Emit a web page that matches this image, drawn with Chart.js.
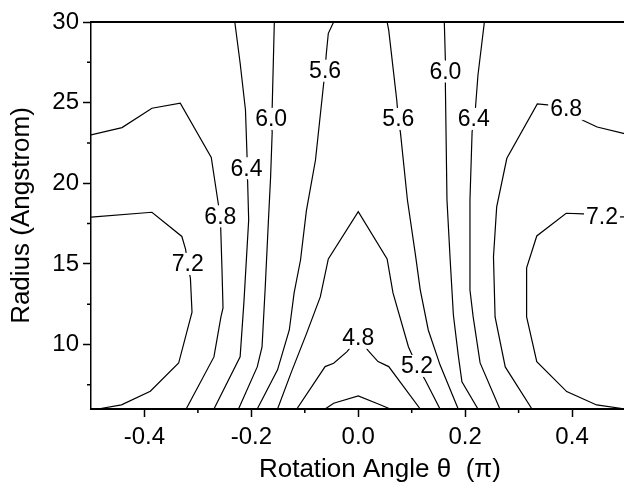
<!DOCTYPE html>
<html>
<head>
<meta charset="utf-8">
<script src="https://cdn.jsdelivr.net/npm/chart.js@4.4.0/dist/chart.umd.min.js"></script>
<style>
  html, body { margin: 0; padding: 0; background: #fff; overflow: hidden; }
  #wrap { width: 624px; height: 487px; overflow: hidden; }
  #box { width: 630px; height: 487px; }
</style>
</head>
<body>
<div id="wrap"><div id="box"><canvas id="chart"></canvas></div></div>
<script>
const xTicks = [-0.4, -0.2, 0.0, 0.2, 0.4];
const xMinor = [-0.3, -0.1, 0.1, 0.3];
const yTicks = [10, 15, 20, 25, 30];
const yMinor = [7.5, 12.5, 17.5, 22.5, 27.5];

// contour lines as [rotation angle, radius]
const c72Left = [[-0.5, 17.9], [-0.386, 18.2], [-0.33, 16.7], [-0.323, 15.9], [-0.319, 15.0], [-0.314, 14.1], [-0.311, 12.0], [-0.336, 8.85], [-0.389, 7.1], [-0.443, 6.26], [-0.482, 6.03], [-0.5, 6.0]];
const c68Left = [[-0.5, 23.0], [-0.442, 23.45], [-0.386, 24.65], [-0.333, 24.96], [-0.275, 21.6], [-0.262, 18.76], [-0.258, 17.95], [-0.255, 14.75], [-0.253, 12.27], [-0.257, 11.7], [-0.27, 9.23], [-0.322, 6.0]];
const c64Left = [[-0.231, 30], [-0.221, 27.46], [-0.211, 24.54], [-0.208, 21.63], [-0.209, 20.93], [-0.207, 20.14], [-0.205, 17.72], [-0.214, 12.58], [-0.221, 9.24], [-0.27, 6.0]];
const c60Left = [[-0.157, 30], [-0.161, 24.73], [-0.163, 23.99], [-0.161, 23.18], [-0.164, 20.39], [-0.168, 17.72], [-0.174, 13.57], [-0.18, 9.85], [-0.189, 8.61], [-0.224, 6.0]];
const c56Left = [[-0.046, 30], [-0.056, 29.3], [-0.06, 27.95], [-0.062, 26.98], [-0.065, 26.09], [-0.08, 21.44], [-0.097, 18.3], [-0.108, 15.24], [-0.12, 13.2], [-0.129, 10.9], [-0.151, 8.43], [-0.189, 6.0]];
const c52 = [[-0.151, 6.0], [-0.125, 8.3], [-0.097, 10.66], [-0.071, 12.95], [-0.056, 15.31], [0.0, 18.24], [0.054, 15.31], [0.065, 13.2], [0.094, 9.85], [0.11, 8.67], [0.125, 7.81], [0.153, 6.0]];
const c48 = [[-0.115, 6.0], [-0.062, 8.63], [-0.046, 8.84], [-0.021, 9.56], [0.0, 10.41], [0.019, 9.6], [0.037, 8.94], [0.057, 8.63], [0.116, 6.0]];
const c44 = [[-0.062, 6.0], [-0.046, 6.36], [0.0, 6.81], [0.041, 6.26], [0.06, 6.0]];
const c56Right = [[0.054, 30], [0.057, 29.5], [0.072, 25.16], [0.075, 23.99], [0.079, 23.12], [0.092, 18.96], [0.107, 15.56], [0.116, 13.39], [0.131, 10.9], [0.153, 8.74], [0.187, 6.0]];
const c60Right = [[0.161, 30], [0.163, 27.64], [0.163, 26.93], [0.163, 26.09], [0.166, 18.96], [0.172, 15.24], [0.178, 11.83], [0.187, 9.36], [0.194, 7.68], [0.224, 6.0]];
const c64Right = [[0.236, 30], [0.224, 26.71], [0.219, 24.54], [0.216, 23.99], [0.213, 23.18], [0.209, 18.96], [0.209, 13.38], [0.215, 11.71], [0.228, 8.86], [0.265, 6.0]];
const c68Right = [[0.325, 6.0], [0.275, 8.61], [0.256, 11.71], [0.253, 15.43], [0.259, 18.53], [0.278, 21.55], [0.335, 24.92], [0.359, 24.85], [0.389, 24.61], [0.421, 23.89], [0.447, 23.49], [0.5, 23.06]];
const c72Right = [[0.5, 6.0], [0.446, 6.25], [0.39, 7.08], [0.334, 8.94], [0.315, 11.71], [0.315, 14.75], [0.334, 16.73], [0.389, 18.14], [0.421, 18.1], [0.456, 17.9], [0.5, 17.91]];

// contour level labels: text, angle, radius
const contourLabels = [
    ['7.2', -0.319, 15.0], ['6.8', -0.258, 17.95], ['6.4', -0.209, 20.93],
    ['6.0', -0.163, 23.99], ['5.6', -0.062, 26.98], ['4.8', 0.0, 10.41],
    ['5.2', 0.11, 8.67], ['5.6', 0.075, 23.99], ['6.0', 0.163, 26.93],
    ['6.4', 0.216, 23.99], ['6.8', 0.389, 24.61], ['7.2', 0.456, 17.9]
];

const lines = [c72Left, c68Left, c64Left, c60Left, c56Left, c52, c48, c44, c56Right, c60Right, c64Right, c68Right, c72Right];
const FONT = '"Liberation Sans", Arial, sans-serif';

const contourExtras = {
    id: 'contourExtras',
    afterDraw(chart) {
        const ctx = chart.ctx;
        const x = chart.scales.x;
        const y = chart.scales.y;
        ctx.save();
        ctx.strokeStyle = '#000';
        ctx.lineWidth = 1.5;
        ctx.beginPath();
        xMinor.forEach(v => {
            const px = x.getPixelForValue(v);
            ctx.moveTo(px, x.top);
            ctx.lineTo(px, x.top + 4);
        });
        yMinor.forEach(v => {
            const py = y.getPixelForValue(v);
            ctx.moveTo(y.right, py);
            ctx.lineTo(y.right - 4, py);
        });
        ctx.stroke();

        ctx.font = '23px ' + FONT;
        ctx.textAlign = 'center';
        ctx.textBaseline = 'middle';
        contourLabels.forEach(([t, vx, vy]) => {
            const px = x.getPixelForValue(vx);
            const py = y.getPixelForValue(vy);
            const w = ctx.measureText(t).width;
            ctx.fillStyle = '#fff';
            ctx.fillRect(px - w / 2 - 2, py - 11, w + 4, 22);
            ctx.fillStyle = '#000';
            ctx.fillText(t, px, py + 1);
        });
        ctx.restore();
    }
};

new Chart(document.getElementById('chart'), {
    type: 'scatter',
    data: {
        datasets: lines.map(pts => ({
            data: pts.map(p => ({x: p[0], y: p[1]})),
            showLine: true,
            borderColor: '#000',
            borderWidth: 1.2,
            pointRadius: 0,
            fill: false,
            tension: 0
        }))
    },
    options: {
        responsive: true,
        maintainAspectRatio: false,
        animation: false,
        devicePixelRatio: 1,
        layout: {padding: {top: 22, right: 4.5, left: 0, bottom: 0}},
        plugins: {legend: {display: false}, tooltip: {enabled: false}},
        scales: {
            x: {
                type: 'linear',
                position: 'bottom',
                min: -0.5,
                max: 0.5,
                afterBuildTicks: s => { s.ticks = xTicks.map(v => ({value: v})); },
                afterFit: s => { s.height = 78; },
                ticks: {
                    callback: v => v.toFixed(1),
                    color: '#000',
                    font: {family: FONT, size: 24},
                    padding: 6,
                    maxRotation: 0,
                    autoSkip: false
                },
                grid: {drawOnChartArea: false, tickLength: 8, tickColor: '#000', tickWidth: 1.5},
                border: {color: '#000', width: 2},
                title: {
                    display: true,
                    // leading spaces push the title right, as in the original
                    text: '      Rotation Angle \u03b8  (\u03c0)',
                    color: '#000',
                    font: {family: FONT, size: 26},
                    padding: {top: 0, bottom: 2}
                }
            },
            x2: {
                type: 'linear',
                position: 'top',
                min: -0.5,
                max: 0.5,
                afterFit: s => { s.height = 0; },
                ticks: {display: false},
                grid: {drawOnChartArea: false, drawTicks: false},
                border: {color: '#000', width: 2}
            },
            y: {
                type: 'linear',
                min: 6,
                max: 30,
                afterBuildTicks: s => { s.ticks = yTicks.map(v => ({value: v})); },
                afterFit: s => { s.width = 91; },
                ticks: {
                    color: '#000',
                    font: {family: FONT, size: 24},
                    padding: 4
                },
                grid: {drawOnChartArea: false, tickLength: 8, tickColor: '#000', tickWidth: 1.5},
                border: {color: '#000', width: 1.5},
                title: {
                    display: true,
                    text: 'Radius (Angstrom)',
                    color: '#000',
                    font: {family: FONT, size: 26},
                    padding: {top: 6, bottom: 0}
                }
            }
        }
    },
    plugins: [contourExtras]
});
</script>
</body>
</html>
